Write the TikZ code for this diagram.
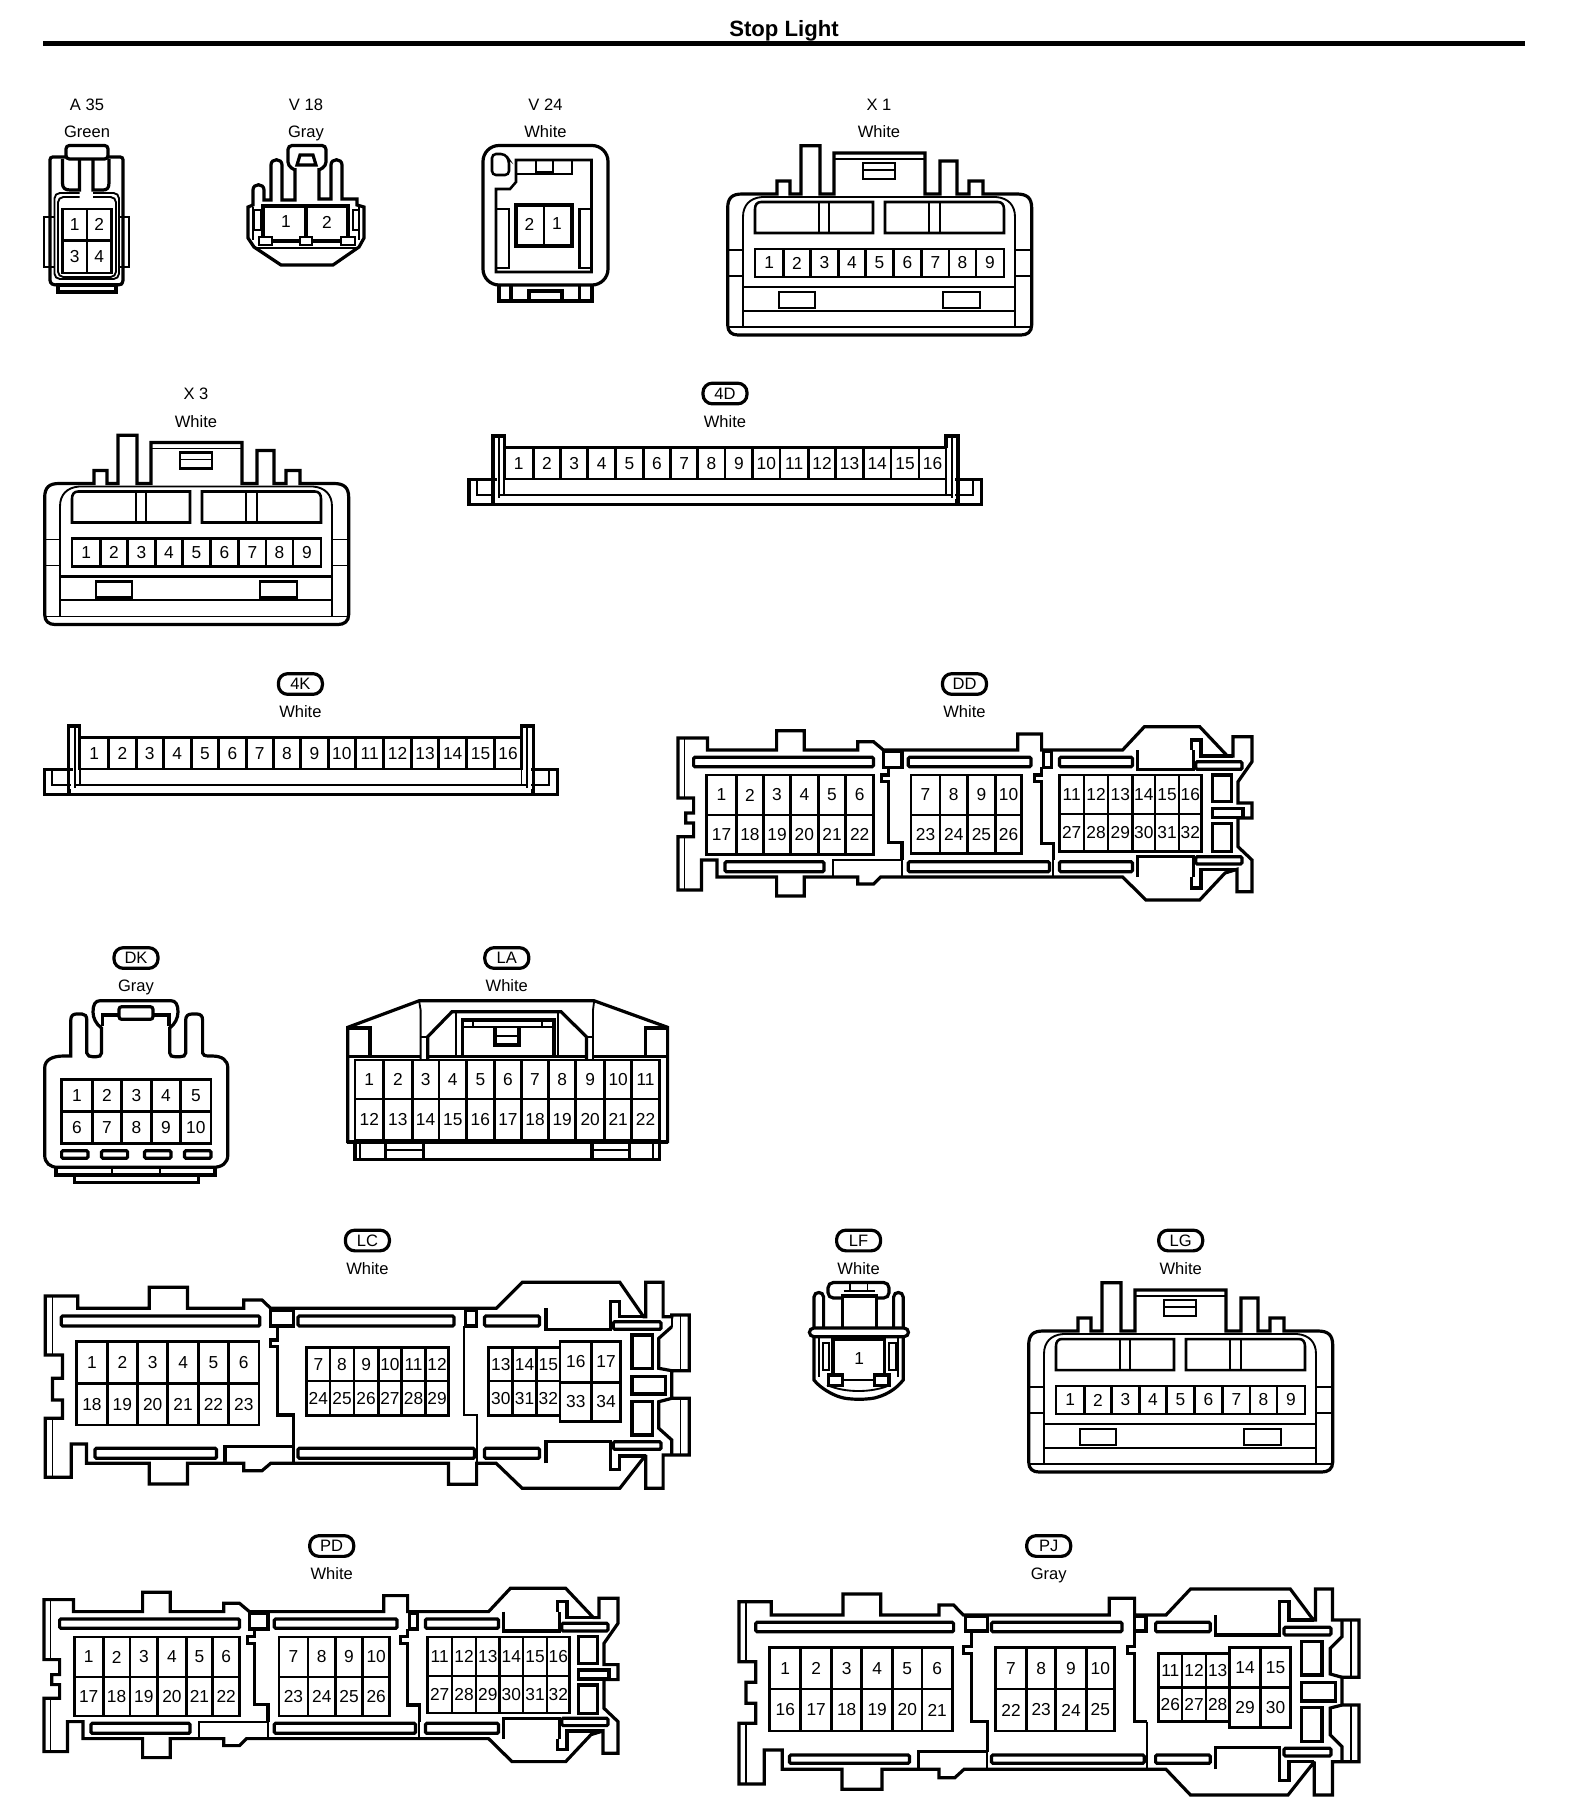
\documentclass[tikz,border=0pt]{standalone}
\usepackage{fontspec}
\setmainfont{Liberation Sans}
\tikzset{
  outl/.style={line width=2.4pt,line join=miter,miter limit=3},
  inl/.style={line width=1.4pt,line join=miter},
  midl/.style={line width=1.9pt,line join=miter},
  cellbox/.style={line width=2.2pt},
  pinno/.style={inner sep=0pt,font=\fontsize{13}{14}\selectfont},
  lbl/.style={inner sep=0pt,text height=9pt,text depth=0pt,font=\fontsize{12.4}{14}\selectfont},
  pill/.style={draw,line width=2.4pt,rounded corners=7pt,minimum width=33pt,minimum height=15.5pt,inner sep=0pt,font=\fontsize{12.4}{14}\selectfont},
}
% plain code and colour labels
\newcommand\codelabel[5]{\node[lbl] (#1-code) at (#2,#3) {#4};\node[lbl] (#1-col) at (#2,#3+27.7) {#5};}
\newcommand\pilllabel[4]{\node[pill] (#1-code) at (#2,#3) {#1};\node[lbl] (#1-col) at (#2,#3+27.7) {#4};}
% row of numbered cells: prefix, edges, top, bottom, first number
\newcommand\pinrow[5]{%
  \foreach \e [remember=\e as \p (initially 0),count=\i] in {#2} {%
    \ifnum\i>1
      \draw[cellbox] (\p,#3) rectangle (\e,#4);
      \pgfmathtruncatemacro\n{#5+\i-2}
      \node[pinno] (#1-\n) at ({(\p+\e)/2},{(#3+#4)/2}) {\n};
    \fi
  }}
\newcommand\brect[4]{\draw[outl,rounded corners=1pt] (#1,#3) rectangle (#2,#4);}

% 9-way connector X1/X3/LG, in X1 coordinates
\newcommand\ninebody{%
  \draw[outl] (727.7,208) .. controls (727.7,198) and (732,194) .. (742,194) -- (777,194)--(777,181)--(790,181)--(790,194)--(801,194)--(801,145.7)--(820,145.7)--(820,194)--(834,194)--(834,153)--(925,153)--(925,194)--(940,194)--(940,161)--(957,161)--(957,194)--(969,194)--(969,181)--(983,181)--(983,194)--(1017,194) .. controls (1027,194) and (1031.7,198) .. (1031.7,208) -- (1031.7,325) .. controls (1031.7,332) and (1027,335) .. (1021,335) -- (738,335) .. controls (732,335) and (727.7,332) .. (727.7,325) -- cycle;
  \draw[inl] (743,327)--(743,217) .. controls (743,205) and (750,198) .. (762,197) -- (996,197) .. controls (1008,198) and (1015,205) .. (1015,217)--(1015,327);
  \draw[inl] (834,159)--(925,159);
  \draw[midl] (863,163) rectangle (895,179);
  \draw[inl] (863,170)--(895,170);
  \draw[midl] (755,233)--(755,209) .. controls (755,205) and (757,202) .. (761,202)--(873,202)--(873,233)--cycle;
  \draw[midl] (885,233)--(885,202)--(998,202) .. controls (1002,202) and (1004,205) .. (1004,209)--(1004,233)--cycle;
  \draw[midl] (819,202)--(819,233) (829,202)--(829,233) (929,202)--(929,233) (940,202)--(940,233);
  \draw[inl] (727.7,250)--(743,250) (727.7,276)--(743,276) (1015,250)--(1031.7,250) (1015,276)--(1031.7,276);
  \draw[inl] (727.7,327)--(1031.7,327);
  \draw[midl] (743,287)--(1015,287);
  \draw[inl] (743,310.7)--(1015,310.7);
  \draw[midl] (779,292) rectangle (815,308) (943,292) rectangle (980,308);
}
\newcommand\ninecells[1]{\pinrow{#1}{755,783.3,810.7,838.3,865.7,893.3,921.7,949,976,1004}{249}{277}{1}}

% 16-way strip, in 4D coordinates
\newcommand\stripbody{%
  \draw[outl] (497,479.3)--(469,479.3)--(469,504.3)--(981.7,504.3)--(981.7,479.3)--(955,479.3);
  \draw[inl] (476.7,481)--(476.7,495)--(495,495) (973.3,481)--(973.3,495)--(955,495) (499,495)--(951.7,495);
  \draw[outl] (495,501)--(493,501)--(493,436)--(504.3,436)--(504.3,448) (946,448)--(946,436)--(958,436)--(958,501)--(955,501);
  \draw[inl] (499.3,436)--(499.3,498) (951.7,436)--(951.7,498) (504.3,479)--(504.3,495) (946,479)--(946,495);
}
\newcommand\stripcells[1]{\pinrow{#1}{504.3,533.3,560.7,587.7,615.7,643.3,670.7,697.7,725,752.7,780,808.3,835.7,863.3,891,919,946}{447.7}{479}{1}}

% body shared by DD and PD, in DD coordinates
\newcommand\ddbody{%
  \draw[outl] (678,738)--(707.4,738)--(707.4,750)--(776.6,750)--(776.6,730.7)--(804.3,730.7)--(804.3,750)--(857.7,750)--(857.7,741.7)--(873.5,741.7)--(883.4,750)--(1017.8,750)--(1017.8,734)--(1041.6,734)--(1041.6,750)--(1122.6,750)--(1144.4,726.7)--(1199.7,726.7)--(1227.4,756)--(1233,756)--(1233,736.7)--(1252,736.7)--(1252,761.7)--(1238,781.7)--(1238,803)--(1252,803)--(1252,818)--(1238,818)--(1238,846.7)--(1252,860)--(1252,891.7)--(1237,891.7)--(1237,869.3)--(1225,873)--(1199.7,900)--(1146,900)--(1122.6,877)--(880.6,877)--(873.5,884)--(857.7,884)--(857.7,877)--(804.3,877)--(804.3,896)--(776.6,896)--(776.6,877)--(717,877)--(717,860)--(701.5,860)--(701.5,890)--(678,890)--(678,836.7)--(693.6,836.7)--(693.6,823)--(685.7,823)--(685.7,813)--(693.6,813)--(693.6,798)--(678,798)--cycle;
  \draw[inl] (684.5,739)--(684.5,798) (684.5,837)--(684.5,889);
  \brect{693.6}{873.5}{757.3}{766.7}\brect{908.3}{1031}{757.3}{766.7}\brect{1059.4}{1132.5}{757.3}{766.7}
  \brect{725}{824}{861.7}{871.7}\brect{908.3}{1049.5}{861.7}{871.7}\brect{1059.4}{1132.5}{861.7}{871.7}
  \draw[outl] (1137.7,750)--(1137.7,769.3)--(1193.8,769.3)--(1193.8,750);
  \draw[outl] (1137.7,877)--(1137.7,856.7)--(1193.8,856.7)--(1193.8,877);
  \draw[outl] (1191.8,750)--(1191.8,740)--(1201,740)--(1201,756)--(1233,756);
  \draw[outl] (1191.8,877)--(1191.8,888)--(1201,888)--(1201,869.3)--(1237,869.3);
  \brect{1195.8}{1242}{761.7}{769.3}\brect{1195.8}{1242}{856.7}{864}
  \draw[outl] (1212.4,775) rectangle (1231.4,801.7) (1212.4,808.3) rectangle (1243,817.3) (1212.4,823.3) rectangle (1231.4,851.7);
  \draw[outl] (883.4,751.7) rectangle (902,767.3);
  \draw[outl] (888.5,767.3)--(888.5,775)--(881.4,775)--(881.4,781.7)--(888.5,781.7)--(888.5,842.7)--(902,842.7)--(902,860);
  \draw[inl] (902,860)--(902,877);
  \draw[outl] (1043.5,751.7) rectangle (1051.5,767.3);
  \draw[outl] (1041.6,767.3)--(1041.6,775)--(1034.8,775)--(1034.8,781.7)--(1041.6,781.7)--(1041.6,843.3)--(1053.4,843.3)--(1053.4,860);
  \draw[inl] (1053.4,860)--(1053.4,877) (832.8,877)--(832.8,860)--(902,860);
}
\begin{document}
\begin{tikzpicture}[x=0.75pt,y=-0.75pt]
\useasboundingbox (0,0) rectangle (1568,1818);
\node[inner sep=0pt,text height=12pt,text depth=0pt,font=\fontsize{16.6}{18}\selectfont\bfseries] (title) at (784,28) {Stop Light};
\draw[line width=3.5pt] (43,43.3)--(1525,43.3);

% ---- labels
\codelabel{A35}{87}{104}{A 35}{Green}
\codelabel{V18}{306}{104}{V 18}{Gray}
\codelabel{V24}{545.5}{104}{V 24}{White}
\codelabel{X1}{879}{104}{X 1}{White}
\codelabel{X3}{196}{393.5}{X 3}{White}
\pilllabel{4D}{725}{393.5}{White}
\pilllabel{4K}{300.4}{684}{White}
\pilllabel{DD}{964.5}{684}{White}
\pilllabel{DK}{136}{958}{Gray}
\pilllabel{LA}{506.8}{958}{White}
\pilllabel{LC}{367.4}{1240.5}{White}
\pilllabel{LF}{858.6}{1240.5}{White}
\pilllabel{LG}{1180.7}{1240.5}{White}
\pilllabel{PD}{331.7}{1546}{White}
\pilllabel{PJ}{1048.7}{1546}{Gray}

% ---- A35
\draw[outl,rounded corners=2.5pt] (66,145.5) rectangle (108,159);
\draw[outl,rounded corners=2pt] (66,157)--(50,157)--(50,283)--(54,285)--(120,285)--(123,283)--(123,157)--(108,157);
\draw[outl] (62.5,159)--(62.5,183) .. controls (62.5,188) and (65,190) .. (70,190)--(79.5,190)--(79.5,159);
\draw[outl] (93,159)--(93,190)--(103,190) .. controls (107,190) and (109,188) .. (109,183)--(109,159);
\draw[outl] (58,285) rectangle (116,292);
\draw[inl,rounded corners=4pt] (79.5,193)--(54.5,193)--(54.5,279)--(119,279)--(119,193)--(93,193);
\draw[inl,rounded corners=4pt] (79.5,197)--(58,197)--(58,277)--(116,277)--(116,197)--(93,197);
\draw[midl] (54,217)--(44,217)--(44,267)--(54,267);
\draw[midl] (118,217)--(129,217)--(129,267)--(118,267);
\pinrow{A35}{62.5,87,111.6}{209}{240.7}{1}
\pinrow{A35}{62.5,87,111.6}{240.7}{273}{3}

% ---- V18
\draw[outl,rounded corners=3pt] (295,170)--(288,166)--(288,145.5)--(326,145.5)--(326,166)--(319,170);
\draw[outl] (297,165)--(300,155)--(313,155)--(316,165)--cycle;
\draw[outl] (295,168)--(295,200)--(282,200)--(282,165) .. controls (282,158) and (271,158) .. (271,165)--(271,200)--(264,200)--(264,190) .. controls (264,183) and (253,183) .. (253,190)--(253,205)--(248,207)--(248,238)--(254,247)--(281,265)--(333,265)--(359,247)--(364,238)--(364,207)--(357,205)--(357,199)--(342,199)--(342,165) .. controls (342,158) and (331,158) .. (331,165)--(331,199)--(319,199)--(319,168);
\draw[inl] (254,210) rectangle (261,230) (353,210) rectangle (359,230) (254,248)--(359,248) (253,207)--(253,240) (359,207)--(359,240);
\draw[outl] (263,206) rectangle (348,241);
\draw[outl] (306,206)--(306,241);
\draw[midl,fill=white] (259,237) rectangle (272,245) (300,237) rectangle (312,245) (341,237) rectangle (355,245);
\node[pinno] (V18-1) at (286,222) {1};
\node[pinno] (V18-2) at (327,222) {2};

% ---- V24
\draw[outl,rounded corners=12pt] (483,145.5) rectangle (608,285);
\draw[outl] (499,285)--(499,301)--(592,301)--(592,285) (511,285)--(511,301) (579.5,285)--(579.5,301);
\draw[outl] (529,301)--(529,291)--(562,291)--(562,301);
\draw[midl,rounded corners=3pt] (492,175)--(492,154)--(505,154)--(509,160)--(509,175)--cycle;
\draw[midl] (516,160)--(591.5,160)--(591.5,272)--(496,272)--(496,189)--(510,189)--(516,182)--cycle;
\draw[midl] (516,174)--(572,174)--(572,160) (536,160)--(536,172)--(553,172)--(553,160);
\draw[midl] (496,209)--(509,209)--(509,268)--(496,268) (591.5,209)--(579.5,209)--(579.5,268)--(591.5,268);
\draw[outl] (516,205) rectangle (572,246);
\draw[midl] (544,205)--(544,246);
\node[pinno] (V24-2) at (529.5,224) {2};
\node[pinno] (V24-1) at (557,224) {1};

% ---- X1, X3, LG
\begin{scope}\ninebody\ninecells{X1}\end{scope}
\begin{scope}[shift={(-683,289.5)}]\ninebody\ninecells{X3}\end{scope}
\begin{scope}[shift={(301,1137)}]\ninebody\ninecells{LG}\end{scope}

% ---- 4D, 4K
\begin{scope}\stripbody\stripcells{4D}\end{scope}
\begin{scope}[shift={(-424.5,290)}]\stripbody\stripcells{4K}\end{scope}

% ---- DD
\begin{scope}\ddbody
\pinrow{DD}{706.7,736.3,763.6,790.5,818.2,845.8,873.5}{775}{815}{1}
\pinrow{DD}{706.7,736.3,763.6,790.5,818.2,845.8,873.5}{815}{854.3}{17}
\pinrow{DD}{911,940,967.6,995.3,1021.8}{775}{815}{7}
\pinrow{DD}{911,940,967.6,995.3,1021.8}{815}{853.3}{23}
\pinrow{DD}{1059.4,1084,1108,1132.5,1155,1179,1201.7}{775}{814}{11}
\pinrow{DD}{1059.4,1084,1108,1132.5,1155,1179,1201.7}{814}{851.7}{27}
\end{scope}

% ---- PD
\begin{scope}[shift={(-634,861.6)}]\ddbody\end{scope}
\pinrow{PD}{74.3,103.2,130,157.7,186.2,212.7,239.6}{1637}{1677}{1}
\pinrow{PD}{74.3,103.2,130,157.7,186.2,212.7,239.6}{1677}{1716}{17}
\pinrow{PD}{279,308,335.5,362.5,389.8}{1637}{1677}{7}
\pinrow{PD}{279,308,335.5,362.5,389.8}{1677}{1716}{23}
\pinrow{PD}{427.4,452,476,499.5,523,547,569.7}{1637}{1676}{11}
\pinrow{PD}{427.4,452,476,499.5,523,547,569.7}{1676}{1713}{27}

% ---- DK
\draw[outl] (44.7,1068) .. controls (44.7,1060) and (52,1056) .. (63.7,1056)--(70.8,1056)--(70.8,1020) .. controls (70.8,1016) and (73,1014) .. (76.3,1014)--(82,1014) .. controls (85,1014) and (86.8,1016) .. (86.8,1020)--(86.8,1053) .. controls (87,1056) and (90,1056.7) .. (93,1056.7)--(96,1056.7) .. controls (99,1056.7) and (101.5,1056) .. (101.5,1053)--(101.5,1028) .. controls (96,1024) and (93,1018) .. (93,1012) .. controls (93,1005) and (95,1000.7) .. (100,1000.7)--(171,1000.7) .. controls (176,1000.7) and (178,1005) .. (178,1012) .. controls (178,1018) and (175,1024) .. (169.7,1028)--(169.7,1053) .. controls (169.7,1056) and (172,1056.7) .. (175,1056.7)--(180,1056.7) .. controls (183,1056.7) and (185.7,1056) .. (185.7,1053)--(185.7,1020) .. controls (185.7,1016) and (188,1014) .. (192,1014)--(197,1014) .. controls (200.5,1014) and (202.6,1016) .. (202.6,1020)--(202.6,1053) .. controls (202.6,1055) and (205,1056) .. (208.9,1056)--(212,1056) .. controls (222,1056) and (227.8,1060) .. (227.8,1068)--(227.8,1155) .. controls (227.8,1163) and (222,1167.3) .. (213,1167.3)--(58,1167.3) .. controls (50,1167.3) and (44.7,1163) .. (44.7,1155)--cycle;
\draw[outl] (102.4,1026)--(102.4,1015)--(168.9,1015)--(168.9,1026);
\draw[outl,rounded corners=2pt,fill=white] (119,1006.7) rectangle (153,1019.3);
\pinrow{DK}{61.6,92.3,121.8,151.2,180.7,211}{1079.3}{1111.7}{1}
\pinrow{DK}{61.6,92.3,121.8,151.2,180.7,211}{1111.7}{1143.3}{6}
\brect{61.6}{88}{1150.7}{1158.3}\brect{101.5}{127.6}{1150.7}{1158.3}\brect{144.5}{171}{1150.7}{1158.3}\brect{184.5}{211}{1150.7}{1158.3}
\draw[outl] (56,1167.3)--(56,1175)--(215,1175)--(215,1167.3) (74.2,1175)--(74.2,1182.7)--(198.4,1182.7)--(198.4,1175);
\draw[inl] (112,1167.3)--(112,1175) (159.6,1167.3)--(159.6,1175);

% ---- LA
\draw[outl] (347.8,1143)--(347.8,1027.3)--(419.3,1000.7)--(594,1000.7)--(667.6,1027.3)--(667.6,1143);
\draw[outl] (347,1142)--(668,1142);
\draw[outl] (355,1143.3)--(355,1159.3)--(659.2,1159.3)--(659.2,1143.3);
\draw[inl] (360,1143.3)--(360,1159.3) (653,1143.3)--(653,1159.3);
\draw[outl] (385.6,1143.3)--(385.6,1159.3) (423.5,1143.3)--(423.5,1159.3) (592,1143.3)--(592,1159.3) (629.7,1143.3)--(629.7,1159.3);
\draw[inl] (385.6,1150)--(423.5,1150) (592,1150)--(629.7,1150);
\draw[outl] (347.8,1028)--(370,1028)--(370,1056) (667.6,1028)--(645.3,1028)--(645.3,1056);
\draw[outl] (347.8,1056.7)--(421,1056.7) (428,1056.7)--(586,1056.7) (594,1056.7)--(667.6,1056.7);
\draw[inl] (419.3,1002)--(420.6,1010)--(420.6,1036.7)--(420.6,1060) (594,1002)--(593,1010)--(593,1060);
\draw[outl] (427.7,1060)--(427.7,1036.7)--(452,1011.7)--(561,1011.7)--(586.4,1036.7)--(586.4,1060);
\draw[inl] (420.6,1036.7)--(427.7,1036.7) (586.4,1036.7)--(593,1036.7);
\draw[inl] (456,1012)--(456,1055) (558,1012)--(558,1055);
\draw[outl] (462.7,1057)--(462.7,1020)--(554,1020)--(554,1057);
\draw[inl] (462.7,1027.3)--(554,1027.3) (473,1020)--(473,1027.3) (542,1020)--(542,1027.3);
\draw[outl] (495,1027.3)--(495,1045)--(519,1045)--(519,1027.3);
\draw[inl] (495,1036)--(519,1036);
\pinrow{LA}{355,383.5,412.2,439,466.5,494.2,521.6,548.5,575.9,604.5,631.9,659.2}{1060}{1099}{1}
\pinrow{LA}{355,383.5,412.2,439,466.5,494.2,521.6,548.5,575.9,604.5,631.9,659.2}{1099}{1140}{12}

% ---- LC
\draw[outl] (45.2,1296)--(77.7,1296)--(77.7,1308.3)--(149.3,1308.3)--(149.3,1287.3)--(187.4,1287.3)--(187.4,1308.3)--(243.8,1308.3)--(243.8,1300)--(262,1300)--(270.7,1308.3)--(496.2,1308.3)--(522.2,1282.3)--(619.8,1282.3)--(643.6,1316.7)--(645.8,1316.7)--(645.8,1282.3)--(663.1,1282.3)--(663.1,1316.7)--(671.8,1316.7)--(671.8,1315)--(689.2,1315)--(689.2,1370.7)--(671.8,1370.7)--(671.8,1398.3)--(689.2,1398.3)--(689.2,1455)--(663.1,1455)--(663.1,1488.3)--(645.8,1488.3)--(645.8,1455)--(619.8,1488.3)--(522.2,1488.3)--(496.2,1463.3)--(476.6,1463.3)--(476.6,1484.3)--(448.5,1484.3)--(448.5,1463.3)--(270.7,1463.3)--(262,1470.7)--(243.8,1470.7)--(243.8,1463.3)--(187.4,1463.3)--(187.4,1484)--(149.3,1484)--(149.3,1463.3)--(86.4,1463.3)--(86.4,1444)--(71.2,1444)--(71.2,1477.3)--(45.2,1477.3)--(45.2,1418.3)--(62.5,1418.3)--(62.5,1400)--(52.5,1400)--(52.5,1378.3)--(62.5,1378.3)--(62.5,1355)--(45.2,1355)--cycle;
\draw[inl] (52.5,1297)--(52.5,1355) (52.5,1418.3)--(52.5,1477);
\draw[outl] (671.8,1326.7)--(658.8,1338.3)--(658.8,1368.3)--(671.8,1370.7) (671.8,1398.3)--(658.8,1401.7)--(658.8,1428.3)--(671.8,1440)--(671.8,1455);
\draw[inl] (680.5,1315)--(680.5,1370.7) (680.5,1398.3)--(680.5,1455) (671.8,1316.7)--(671.8,1326.7);
\brect{61.2}{259.8}{1316}{1326}\brect{298}{454}{1316}{1326}\brect{484.5}{539.5}{1316}{1326}
\brect{95}{216.5}{1448.3}{1458.3}\brect{298}{474.5}{1448.3}{1458.3}\brect{484.5}{539.5}{1448.3}{1458.3}
\draw[outl] (546,1308.3)--(546,1329.3)--(610.2,1329.3)--(610.2,1308.3);
\draw[outl] (546,1463.3)--(546,1441.7)--(610.2,1441.7)--(610.2,1463.3);
\draw[outl] (610.2,1308.3)--(610.2,1301.7)--(619.8,1301.7)--(619.8,1316.7)--(645.8,1316.7);
\draw[outl] (610.2,1463.3)--(610.2,1469.3)--(619.8,1469.3)--(619.8,1456)--(645.8,1456);
\brect{613.3}{661}{1321.7}{1329.3}\brect{613.3}{661}{1441.7}{1449.3}
\draw[outl] (632,1335) rectangle (652.3,1368.3) (632,1376.7) rectangle (665.3,1394) (632,1401.7) rectangle (652.3,1435);
\draw[outl] (270.7,1310.7) rectangle (293.7,1326);
\draw[outl] (277.2,1326)--(277.2,1340)--(270.7,1340)--(270.7,1346.7)--(277.2,1346.7)--(277.2,1415)--(293.7,1415)--(293.7,1463);
\draw[outl] (465.8,1310.7) rectangle (476.6,1326);
\draw[inl] (463.6,1326)--(463.6,1415)--(476.6,1415)--(476.6,1463);
\draw[outl] (225,1463)--(225,1446.7)--(293.7,1446.7);
\pinrow{LC}{76.8,107.2,137.5,167.9,198.3,228.6,259}{1341.7}{1383.3}{1}
\pinrow{LC}{76.8,107.2,137.5,167.9,198.3,228.6,259}{1383.3}{1425}{18}
\pinrow{LC}{306.7,330,354,378.2,401.6,425.5,448.5}{1347.3}{1381}{7}
\pinrow{LC}{306.7,330,354,378.2,401.6,425.5,448.5}{1381}{1415.7}{24}
\pinrow{LC}{488.8,512.7,536.5,560}{1347.3}{1381}{13}
\pinrow{LC}{488.8,512.7,536.5,560}{1381}{1415.7}{30}
\pinrow{LC}{560,591.6,620.6}{1341.7}{1382.3}{16}
\pinrow{LC}{560,591.6,620.6}{1382.3}{1421.7}{33}

% ---- LF
\draw[outl,rounded corners=4pt] (843,1298)--(828,1298)--(828,1282.5)--(889,1282.5)--(889,1298)--(875,1298);
\draw[outl] (842.5,1328)--(842.5,1296)--(876.4,1296)--(876.4,1328);
\draw[inl] (843.6,1291)--(874.6,1291) (850,1283)--(850,1291) (867.5,1283)--(867.5,1291);
\draw[outl] (814,1328)--(814,1297) .. controls (814,1291) and (823.6,1291) .. (823.6,1297)--(823.6,1328);
\draw[outl] (893.6,1328)--(893.6,1297) .. controls (893.6,1291) and (903.2,1291) .. (903.2,1297)--(903.2,1328);
\draw[outl,rounded corners=3.5pt] (809.3,1328) rectangle (908.6,1336.7);
\draw[outl] (814,1336.7)--(814,1380) .. controls (820,1388) and (833,1395) .. (840,1397) .. controls (848,1400) and (870,1400) .. (878,1397) .. controls (888,1394) and (897,1388) .. (903.2,1380)--(903.2,1336.7);
\draw[inl] (819.3,1336.7)--(819.3,1377) (897.9,1336.7)--(897.9,1377);
\draw[inl] (822.9,1343.3) rectangle (829.3,1370) (889,1343.3) rectangle (896,1370);
\draw[outl] (832.9,1376)--(832.9,1339.3)--(884.3,1339.3)--(884.3,1376);
\draw[inl] (842.5,1380)--(874.6,1380);
\draw[outl] (828.2,1375) rectangle (842.5,1385.7) (874.6,1375) rectangle (889,1385.7);
\draw[inl] (827,1385) .. controls (845,1393) and (872,1393) .. (890,1385);
\node[pinno] (LF-1) at (859.3,1358.3) {1};

% ---- PJ
\draw[outl] (739,1601.7)--(771.3,1601.7)--(771.3,1615)--(842.9,1615)--(842.9,1594)--(880.8,1594)--(880.8,1615)--(938.9,1615)--(938.9,1605)--(953.6,1605)--(963.3,1615)--(1109.3,1615)--(1109.3,1598.3)--(1134.6,1598.3)--(1134.6,1615)--(1166,1615)--(1190.5,1589)--(1290.3,1589)--(1313.4,1620)--(1315.5,1620)--(1315.5,1589)--(1332.4,1589)--(1332.4,1620)--(1359,1620)--(1359,1677.3)--(1342,1677.3)--(1342,1705)--(1359,1705)--(1359,1761.7)--(1332.4,1761.7)--(1332.4,1795)--(1314.3,1795)--(1314.3,1761.7)--(1288,1795)--(1190.5,1795)--(1166,1769.3)--(964,1769.3)--(954.8,1777.7)--(938.9,1777.7)--(938.9,1769.3)--(882,1769.3)--(882,1789.3)--(842,1789.3)--(842,1769.3)--(782.3,1769.3)--(782.3,1750)--(764.2,1750)--(764.2,1784)--(739,1784)--(739,1723.3)--(755.8,1723.3)--(755.8,1703.3)--(746,1703.3)--(746,1682.3)--(755.8,1682.3)--(755.8,1661.7)--(739,1661.7)--cycle;
\draw[inl] (746,1602)--(746,1661.7) (746,1723.3)--(746,1784);
\draw[outl] (1342,1620)--(1342,1636.7)--(1330.3,1648.3)--(1330.3,1674)--(1342,1677.3) (1342,1705)--(1330.3,1708)--(1330.3,1735)--(1342,1746.7)--(1342,1761.7);
\draw[inl] (1351,1620)--(1351,1677.3) (1351,1705)--(1351,1761.7);
\brect{755.8}{953.6}{1622.3}{1631.7}\brect{991.5}{1122}{1622.3}{1631.7}\brect{1155.6}{1210.3}{1622.3}{1631.7}
\brect{789.4}{909.4}{1755}{1763.3}\brect{991.5}{1144.2}{1755}{1763.3}\brect{1155.6}{1210.3}{1755}{1763.3}
\draw[outl] (1215.8,1615)--(1215.8,1635)--(1279.8,1635)--(1279.8,1615);
\draw[outl] (1215.8,1769.3)--(1215.8,1747.3)--(1279.8,1747.3)--(1279.8,1769.3);
\draw[outl] (1279.8,1615)--(1279.8,1601.7)--(1289,1601.7)--(1289,1620)--(1314.3,1620);
\draw[outl] (1279.8,1769.3)--(1279.8,1780.7)--(1289,1780.7)--(1289,1761.7)--(1314.3,1761.7);
\brect{1284}{1331}{1627.3}{1635}\brect{1284}{1331}{1748.3}{1756}
\draw[outl] (1301.6,1641.7) rectangle (1321.9,1675) (1301.6,1682.3) rectangle (1335.3,1701) (1301.6,1707.3) rectangle (1321.9,1741.7);
\draw[outl] (965.4,1616.7) rectangle (987.3,1631);
\draw[outl] (971.3,1631)--(971.3,1646.7)--(963.3,1646.7)--(963.3,1653.3)--(971.3,1653.3)--(971.3,1721.7)--(987.3,1721.7)--(987.3,1751.7);
\draw[inl] (987.3,1751.7)--(987.3,1769);
\draw[outl] (1134.6,1616.7) rectangle (1146,1631);
\draw[outl] (1134.6,1631)--(1134.6,1646.7)--(1127.4,1646.7)--(1127.4,1653.3)--(1134.6,1653.3)--(1134.6,1721.7)--(1147.2,1721.7);
\draw[inl] (1147.2,1721.7)--(1147.2,1769);
\draw[outl] (918.7,1769)--(918.7,1751.7)--(987.3,1751.7);
\pinrow{PJ}{769.7,800.8,831.5,861.8,892.6,922,952.3}{1647.3}{1689}{1}
\pinrow{PJ}{769.7,800.8,831.5,861.8,892.6,922,952.3}{1689}{1731}{16}
\pinrow{PJ}{995.7,1026.4,1055.9,1086.2,1114.4}{1647.3}{1689}{7}
\pinrow{PJ}{995.7,1026.4,1055.9,1086.2,1114.4}{1689}{1731}{22}
\pinrow{PJ}{1158.6,1182,1206,1229.3}{1653.3}{1687.3}{11}
\pinrow{PJ}{1158.6,1182,1206,1229.3}{1687.3}{1721.7}{26}
\pinrow{PJ}{1229.3,1260.8,1290.3}{1647.3}{1687.7}{14}
\pinrow{PJ}{1229.3,1260.8,1290.3}{1687.7}{1727.3}{29}
\end{tikzpicture}
\end{document}
